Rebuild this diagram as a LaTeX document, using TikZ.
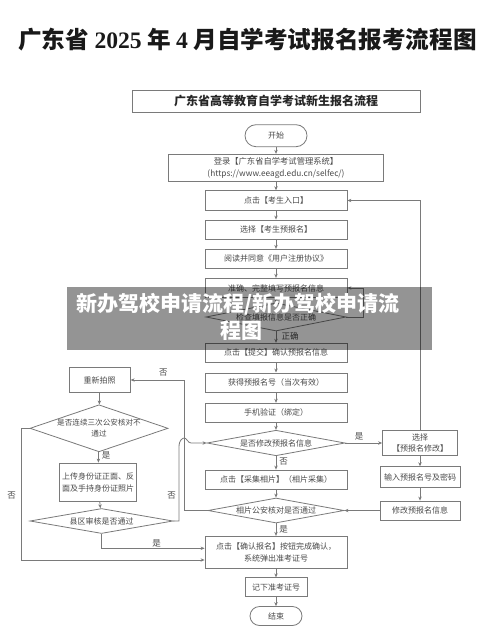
\documentclass[tikz,border=0pt]{standalone}
\usepackage{fontspec}
\setmainfont{Noto Sans CJK SC}
\newfontfamily\numserif{Liberation Serif}
\usetikzlibrary{arrows.meta,shapes.geometric}
\definecolor{ln}{HTML}{7A7A7A}
\definecolor{tx}{HTML}{4A4A4A}
\tikzset{
  base/.style={draw=ln, line width=0.8pt, text=tx, font=\fontsize{8}{10.5}\selectfont, inner sep=0pt, align=center},
  box/.style={base, rectangle, minimum width=142pt, minimum height=19pt},
  term/.style={base, rectangle, rounded corners=9.5pt, minimum height=20pt},
  dia/.style={base, diamond, aspect=5},
  arr/.style={draw=ln, line width=0.8pt, -{Stealth[length=4pt,width=3.4pt]}},
  ln/.style={draw=ln, line width=0.8pt},
  lab/.style={text=tx, font=\fontsize{8.5}{10}\selectfont, inner sep=0pt},
  wmtext/.style={text=white, font=\fontsize{21}{24}\selectfont\bfseries, inner sep=0pt}
}
\begin{document}
\begin{tikzpicture}[x=1pt,y=-1pt]
\useasboundingbox (0,0) rectangle (500,639);
\fill[white] (0,0) rectangle (500,639);

\node[text=black!90, inner sep=0pt, font=\fontsize{23.6}{26}\selectfont\bfseries] (title) at (247.5,40)
  {广东省 {\numserif 2025} 年 {\numserif 4} 月自学考试报名报考流程图};

\node[base, minimum width=288pt, minimum height=22pt, text=black!85, font=\fontsize{12}{14}\selectfont\bfseries] (header) at (276,101) {广东省高等教育自学考试新生报名流程};

% main column
\node[term, minimum width=62pt, minimum height=22pt, rounded corners=11pt] (start) at (276,135.7) {开始};
\node[box, minimum width=215pt, minimum height=27.5pt, font=\fontsize{8.3}{11.5}\selectfont] (login) at (276,168) {登录【广东省自学考试管理系统】\\(https://www.eeagd.edu.cn/selfec/)};
\node[box, minimum height=19.6pt] (entry) at (276,200.5) {点击【考生入口】};
\node[box] (choose) at (276,229.5) {选择【考生预报名】};
\node[box, minimum height=18.6pt] (read) at (276,258.6) {阅读并同意《用户注册协议》};
\node[box, minimum height=19.5pt] (fill) at (276,288) {准确、完整填写预报名信息};
\node[dia, minimum width=140pt, minimum height=28pt] (check) at (276,317) {检查填报信息是否正确};
\node[box] (submit) at (276,352.7) {点击【提交】确认预报名信息};
\node[box, minimum height=19.6pt] (getno) at (276,382.7) {获得预报名号（当次有效）};
\node[box] (phone) at (276,412.7) {手机验证（绑定）};
\node[dia, minimum width=138pt, minimum height=25.5pt] (modq) at (276,443) {是否修改预报名信息};
\node[box] (photo) at (276,479.5) {点击【采集相片】（相片采集）};
\node[dia, minimum width=136pt, minimum height=25pt] (photoq) at (276,510.5) {相片公安核对是否通过};
\node[box, minimum height=32.5pt, font=\fontsize{8}{12.5}\selectfont] (confirm) at (276,552.5) {点击【确认报名】按钮完成确认，\\系统弹出准考证号};
\node[box, minimum width=62pt, minimum height=19pt] (note) at (276,587.3) {记下准考证号};
\node[term, minimum width=52pt, minimum height=19pt] (end) at (276,616) {结束};

% right column
\node[box, minimum width=75pt, minimum height=25pt, font=\fontsize{8}{11}\selectfont] (modsel) at (420,443) {选择\\【预报名修改】};
\node[box, minimum width=80pt, minimum height=20.6pt] (inputno) at (420,477) {输入预报名号及密码};
\node[box, minimum width=80pt, minimum height=19pt] (modinfo) at (420,510.5) {修改预报名信息};

% left column
\node[box, minimum width=61pt, minimum height=24.6pt] (retake) at (99.7,380) {重新拍照};
\node[dia, aspect=2.9, minimum width=138pt, minimum height=47pt, font=\fontsize{7.6}{11}\selectfont] (threeq) at (99,428.3) {是否连续三次公安核对不\\通过};
\node[box, minimum width=77pt, minimum height=38pt, font=\fontsize{8}{12}\selectfont] (upload) at (98,482) {上传身份证正面、反\\面及手持身份证照片};
\node[dia, minimum width=143pt, minimum height=25pt] (countyq) at (101.5,521) {县区审核是否通过};

% main flow
\draw[arr] (start) -- (login);
\draw[arr] (login) -- (entry);
\draw[arr] (entry) -- (choose);
\draw[arr] (choose) -- (read);
\draw[arr] (read) -- (fill);
\draw[arr] (fill) -- (check);
\draw[arr] (check) -- (submit);
\draw[arr] (submit) -- (getno);
\draw[arr] (getno) -- (phone);
\draw[arr] (phone) -- (modq);
\draw[arr] (modq) -- (photo);
\draw[arr] (photo) -- (photoq);
\draw[arr] (photoq) -- (confirm);
\draw[arr] (confirm) -- (note);
\draw[arr] (note) -- (end);

% check loop
\draw[arr] (check.east) -- ++(16.5,0) |- (fill.east);

% modification branch
\draw[arr] (modq.east) -- (modsel.west);
\draw[arr] (modsel) -- (inputno);
\draw[arr] (inputno) -- (modinfo);
\draw[arr] (modinfo.west) -- (photoq.east);
\draw[arr] (modsel.north) |- (entry.east);

% photo failure
\draw[arr] (photoq.west) -- ++(-23,0) |- (retake.east);
\draw[arr] (retake) -- (threeq);
\draw[arr] (threeq) -- (upload);
\draw[arr] (upload) -- (countyq);

% county fail -> modq with hop
\draw[arr] (countyq.east) -- (179,521) -- (179,447)
  .. controls (179,440) and (182.5,438) .. (184.5,438)
  .. controls (186.5,438) and (188,443) .. (191,443) -- (modq.west);

% county pass -> confirm
\draw[arr] (countyq.south) |- ([yshift=4.2pt]confirm.west);
% three times -> confirm
\draw[arr] (threeq.west) -- ++(-8.3,0) |- ([yshift=-7.5pt]confirm.west);

% labels
\node[lab] (l1) at (290,336) {正确};
\node[lab] (l2) at (359,436) {是};
\node[lab] (l3) at (283.5,462) {否};
\node[lab] (l4) at (283.5,529) {是};
\node[lab] (l5) at (163.3,373) {否};
\node[lab] (l6) at (106,455.7) {是};
\node[lab] (l7) at (11.7,496) {否};
\node[lab] (l8) at (171.7,495.5) {否};
\node[lab] (l9) at (156.5,543) {是};

% watermark
\node[fill=black, fill opacity=0.42, minimum width=365.3pt, minimum height=62.7pt, inner sep=0pt] (wmband) at (249.35,318.65) {};
\node[wmtext, anchor=west] (wm1) at (76,304.5) {新办驾校申请流程/新办驾校申请流};
\node[wmtext, anchor=west] (wm2) at (220.5,331) {程图};
\end{tikzpicture}
\end{document}
